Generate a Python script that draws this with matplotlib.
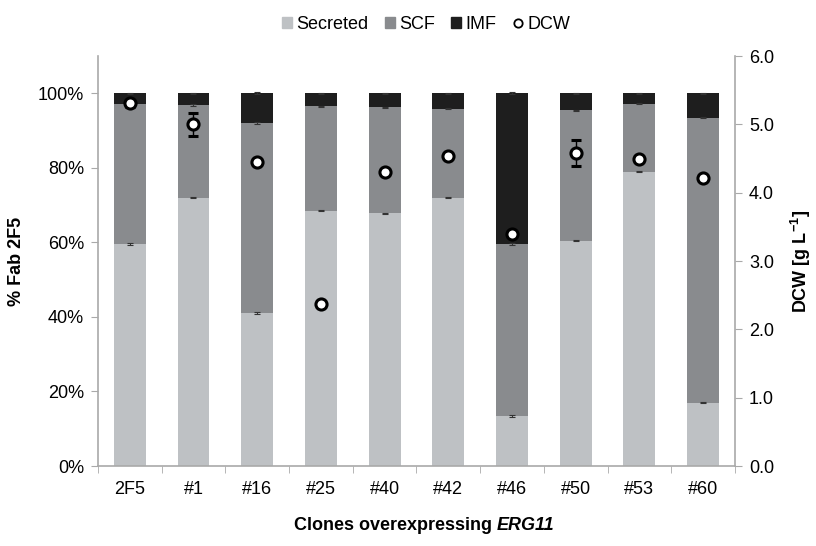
import matplotlib
matplotlib.use("Agg")
import matplotlib.pyplot as plt
import numpy as np
from matplotlib.patches import Patch
from matplotlib.lines import Line2D
from matplotlib.ticker import FixedLocator, FuncFormatter
from matplotlib.offsetbox import TextArea, HPacker, AnnotationBbox

plt.rcParams['font.family'] = ['Liberation Sans', 'DejaVu Sans']

clones = ["2F5", "#1", "#16", "#25", "#40", "#42", "#46", "#50", "#53", "#60"]

# Fab 2F5 distribution (% of total)
secreted = [59.5, 72.0, 41.0, 68.5, 67.8, 72.0, 13.5, 60.5, 79.0, 17.0]
scf      = [37.5, 24.9, 51.0, 28.0, 28.4, 23.9, 46.0, 34.9, 18.2, 76.5]
imf      = [3.0, 3.1, 8.0, 3.5, 3.8, 4.1, 40.5, 4.6, 2.8, 6.5]
segment_err = [0.2, 0.2, 0.3, 0.2, 0.2, 0.2, 0.3, 0.2, 0.2, 0.2]

# Dry cell weight
dcw     = [5.31, 5.00, 4.45, 2.37, 4.31, 4.54, 3.40, 4.58, 4.49, 4.21]
dcw_err = [0.05, 0.17, 0.04, 0.04, 0.04, 0.04, 0.04, 0.19, 0.04, 0.03]

c_sec, c_scf, c_imf = "#bec1c4", "#898b8e", "#1e1e1e"
spine_c = "#a9a9a9"
fs = 13

fig = plt.figure(figsize=(8.16, 5.46), dpi=100)
ax = fig.add_axes([0.120, 0.1465, 0.7807, 0.7509])

x = np.arange(len(clones))
sec = np.array(secreted) / 100
sc = np.array(scf) / 100
im = np.array(imf) / 100
err = np.array(segment_err) / 100
w = 0.5

ax.bar(x, sec, w, color=c_sec, zorder=2)
ax.bar(x, sc, w, bottom=sec, color=c_scf, zorder=2)
ax.bar(x, im, w, bottom=sec + sc, color=c_imf, zorder=2)
ekw = dict(fmt="none", ecolor="#333333", elinewidth=0.8, capsize=2.5, capthick=0.8, zorder=3)
ax.errorbar(x, sec, yerr=err, **ekw)
ax.errorbar(x, sec + sc, yerr=err, **ekw)
ax.errorbar(x, sec + sc + im, yerr=err, **ekw)

ax.set_xlim(-0.5, len(clones) - 0.5)
ax.set_ylim(0, 1.1)
ax.yaxis.set_major_locator(FixedLocator(np.arange(0, 1.01, 0.2)))
ax.yaxis.set_major_formatter(FuncFormatter(lambda v, p: f"{v*100:.0f}%"))
ax.set_xticks(x)
ax.set_xticklabels(clones)
ax.xaxis.set_minor_locator(FixedLocator(np.arange(-0.5, len(clones), 1.0)))
ax.tick_params(axis="x", which="major", length=0, pad=11, labelsize=fs)
ax.tick_params(axis="x", which="minor", length=5, color=spine_c, direction="out")
ax.tick_params(axis="y", length=5, color=spine_c, labelsize=fs, pad=5)
ax.set_ylabel("% Fab 2F5", fontsize=fs, fontweight="bold", labelpad=9)

for s in ["top", "right"]:
    ax.spines[s].set_visible(False)
for s in ["left", "bottom"]:
    ax.spines[s].set_color(spine_c)
    ax.spines[s].set_linewidth(1.2)

ax2 = ax.twinx()
ax2.set_ylim(0, 6)
ax2.set_yticks(np.arange(0, 6.01, 1.0))
ax2.yaxis.set_major_formatter(FuncFormatter(lambda v, p: f"{v:.1f}"))
ax2.tick_params(axis="y", length=5, color=spine_c, labelsize=fs, pad=5)
for s in ["top", "left", "bottom"]:
    ax2.spines[s].set_visible(False)
ax2.spines["right"].set_color(spine_c)
ax2.spines["right"].set_linewidth(1.2)
ax2.errorbar(x, dcw, yerr=dcw_err, fmt="o", color="black", markerfacecolor="white",
             markeredgecolor="black", markersize=8, markeredgewidth=2.2,
             elinewidth=1.0, capsize=3.5, capthick=1.0, zorder=5)
ax2.set_ylabel("DCW [g L$^{\\mathregular{-1}}$]", fontsize=fs, fontweight="bold", labelpad=11)

# x axis title with italic gene name
t1 = TextArea("Clones overexpressing ", textprops=dict(fontsize=fs, fontweight="bold"))
t2 = TextArea("ERG11", textprops=dict(fontsize=fs, fontweight="bold", style="italic"))
box = HPacker(children=[t1, t2], align="baseline", pad=0, sep=0)
ab = AnnotationBbox(box, (0.52, 0.038), xycoords="figure fraction", frameon=False,
                    box_alignment=(0.5, 0.5))
fig.add_artist(ab)

handles = [Patch(color=c_sec), Patch(color=c_scf), Patch(color=c_imf),
           Line2D([], [], ls="none", marker="o", markerfacecolor="white",
                  markeredgecolor="black", markersize=6, markeredgewidth=1.3)]
fig.legend(handles, ["Secreted", "SCF", "IMF", "DCW"], loc="upper center",
           bbox_to_anchor=(0.522, 1.0), ncol=4, frameon=False, fontsize=fs,
           handlelength=0.55, handleheight=0.55, handletextpad=0.25, columnspacing=0.9)

fig.savefig("out.png", dpi=100)
